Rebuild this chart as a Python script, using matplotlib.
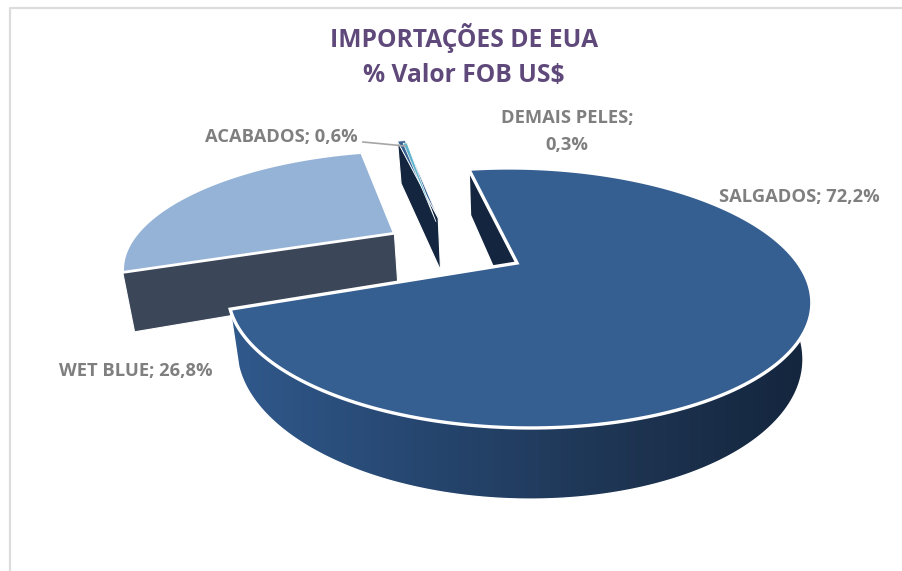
import numpy as np
import matplotlib
matplotlib.use('Agg')
import matplotlib.pyplot as plt
from matplotlib.colors import LinearSegmentedColormap
from matplotlib.patches import Polygon

# Data
categories = ['SALGADOS', 'WET BLUE', 'ACABADOS', 'DEMAIS PELES']
values = [72.2, 26.8, 0.6, 0.3]
value_labels = ['72,2%', '26,8%', '0,6%', '0,3%']

# Colours of each slice
top_colors = ['#355E91', '#95B3D7', '#366092', '#5FB4CC']
wall_colors = ['#14263F', '#3B4658', '#14263F', '#14263F']
side_colors = ['#30598C', '#26466F', '#1E3553', '#14253D']

# Exploded offset and radius of each slice, in pie radius units
offsets = [(0, 0), (-0.458, 0.264), (-0.297, 0.415), (-0.304, 0.376)]
radii = [1, 0.98, 1, 1]

# Perspective of the pie
cx, cy = 517, 263
a, b, k = 281, 120.6, 0.269
skew = 10
depth = 52
wall_factor = 1.12
shrink = 0.97
start_angle = -10.5


def project(u, v, bottom=False, factor=1):
    w = 1 + k * v
    x = (a * u - skew * v) / w
    y = b * v / w
    if bottom:
        return cx + x * shrink, cy - y + depth * factor / w
    return cx + x, cy - y


def rim(theta, off, r=1):
    rad = np.radians(theta)
    return r * np.sin(rad) + off[0], r * np.cos(rad) + off[1]


def top_face(t0, t1, off, r=1):
    thetas = np.linspace(t0, t1, 200)
    u, v = rim(thetas, off, r)
    x, y = project(u, v)
    ax_, ay_ = project(off[0], off[1])
    return np.vstack([[ax_, ay_], np.column_stack([x, y])])


def flat_wall(theta, off, r=1):
    u, v = rim(theta, off, r)
    pts = [project(off[0], off[1]), project(u, v),
           project(u, v, True, wall_factor), project(off[0], off[1], True, wall_factor)]
    return np.array(pts)


fig, ax = plt.subplots(figsize=(9.03, 5.71), dpi=100)
fig.subplots_adjust(0, 0, 1, 1)
ax.axis('off')

# Chart border
ax.plot([10, 10, 903], [571, 8, 8], color='#DCDCDC', lw=1.6, zorder=1)

# Angles of the slices
sweep = np.array(values) / sum(values) * 360
edges = start_angle + np.concatenate([[0], np.cumsum(sweep)])

# Wet blue, acabados and demais, back to front
for i in [1, 2, 3]:
    t0, t1 = edges[i], edges[i + 1]
    off = offsets[i]
    if i != 3:
        ax.add_patch(Polygon(flat_wall(t0, off, radii[i]), fc=wall_colors[i], ec='white',
                             lw=0.8, zorder=2 + i * 0.1))
    ax.add_patch(Polygon(top_face(t0, t1, off, radii[i]), fc=top_colors[i], ec='white',
                         lw=2 if i == 1 else 0.5, joinstyle='miter', zorder=2.5 + i * 0.1))

# Main slice: flat wall behind the top
ax.add_patch(Polygon(flat_wall(edges[0], offsets[0]), fc=wall_colors[0], ec='white',
                     lw=1.5, zorder=3))

# Main slice: outer wall with gradient
thetas = np.linspace(70, edges[1], 300)
u, v = rim(thetas, offsets[0])
xt, yt = project(u, v)
xb, yb = project(u, v, True)
side = Polygon(np.vstack([np.column_stack([xt, yt]), np.column_stack([xb, yb])[::-1]]),
               fc='none', ec='white', lw=1, zorder=3.6)
ax.add_patch(side)
cmap = LinearSegmentedColormap.from_list('side', side_colors)
grad = np.linspace(0, 1, 256).reshape(1, -1)
im = ax.imshow(grad, extent=[xt.min(), xt.max(), yb.max(), yt.min()], cmap=cmap,
               aspect='auto', zorder=3.5)
im.set_clip_path(side)

# Main slice: top
ax.add_patch(Polygon(top_face(edges[0], edges[1], offsets[0]), fc=top_colors[0], ec='white',
                     lw=2.4, joinstyle='miter', zorder=4))

ax.set_xlim(0, 903)
ax.set_ylim(571, 0)

# Title
title_font = ['Open Sans', 'DejaVu Sans']
label_font = ['Open Sans', 'DejaVu Sans']
ax.text(464, 38, 'IMPORTAÇÕES DE EUA', ha='center', va='center', fontsize=17.7,
        fontweight='bold', color='#5F497A', family=title_font)
ax.text(464, 76, '% Valor FOB US$', ha='center', va='center', fontsize=17.7,
        fontweight='bold', color='#5F497A', family=title_font)

# Labels
label_style = dict(fontsize=13.2, fontweight='bold', color='#7F7F7F', family=label_font)
ax.text(799, 197, f'{categories[0]}; {value_labels[0]}', ha='center', va='center', **label_style)
ax.text(136, 371, f'{categories[1]}; {value_labels[1]}', ha='center', va='center', **label_style)
ax.text(281, 137, f'{categories[2]}; {value_labels[2]}', ha='center', va='center', **label_style)
ax.text(567, 118, f'{categories[3]};', ha='center', va='center', **label_style)
ax.text(567, 145, value_labels[3], ha='center', va='center', **label_style)

# Leader line for acabados
ax.plot([363, 405], [142, 146], color='#A6A6A6', lw=1.2, zorder=5)

fig.savefig('out.png', dpi=100)
